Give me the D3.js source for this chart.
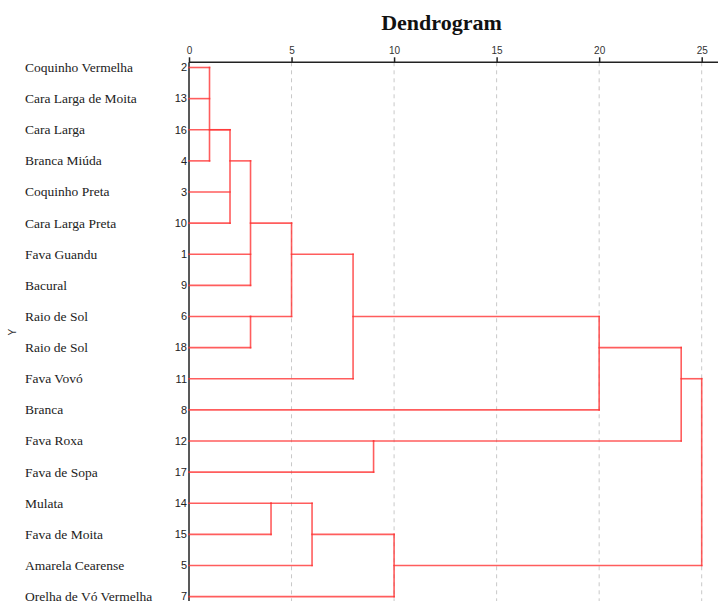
<!DOCTYPE html>
<html>
<head>
<meta charset="utf-8">
<script src="https://cdn.jsdelivr.net/npm/d3@7"></script>
<style>
  html, body { margin: 0; padding: 0; background: #fff; }
  svg { display: block; }
</style>
</head>
<body>
<svg id="chart" width="718" height="601"></svg>
<script>
// ---- data ----
const leafIds   = ["2","13","16","4","3","10","1","9","6","18","11","8","12","17","14","15","5","7"];
const leafNames = ["Coquinho Vermelha","Cara Larga de Moita","Cara Larga","Branca Miúda","Coquinho Preta",
                   "Cara Larga Preta","Fava Guandu","Bacural","Raio de Sol","Raio de Sol","Fava Vovó","Branca",
                   "Fava Roxa","Fava de Sopa","Mulata","Fava de Moita","Amarela Cearense","Orelha de Vó Vermelha"];
// merges: cluster id, children, rescaled distance, leaf row where the cluster's connector is drawn
const mergeIds      = ["A","B","C","D","E","F","G","H","I","J","K","L","R"];
const mergeChildren = [["2","13","4"],["A","16","3","10"],["B","1","9"],["6","18"],["C","D"],["E","11"],
                       ["F","8"],["12","17"],["G","H"],["14","15"],["J","5"],["K","7"],["I","L"]];
const mergeHeights  = [1,2,3,3,5,8,20,9,24,4,6,10,25];
const mergeAnchors  = ["16","4","10","6","1","6","18","12","11","14","15","5",null];
const xTicks = [0,5,10,15,20,25];
const titleText = "Dendrogram";
const yAxisTitle = "Y";

// ---- layout ----
const svg = d3.select("#chart");
const W = 718, H = 601;
const x = d3.scaleLinear().domain([0, 25]).range([189, 701.7]);
const y = d3.scalePoint().domain(leafIds).range([67.5, 596.6]);
const axisY = 62.3;
const red = "#ff3434";

// title
svg.append("text")
  .attr("x", 441.5).attr("y", 29.5)
  .attr("text-anchor", "middle")
  .attr("font-family", "'Liberation Serif', 'DejaVu Serif', serif")
  .attr("font-weight", "bold")
  .attr("font-size", 22)
  .attr("fill", "#111")
  .text(titleText);

// gridlines
svg.append("g").selectAll("line")
  .data(xTicks.filter(t => t > 0))
  .join("line")
  .attr("x1", d => x(d)).attr("x2", d => x(d))
  .attr("y1", axisY).attr("y2", H)
  .attr("stroke", "#c8c8c8").attr("stroke-width", 1)
  .attr("stroke-dasharray", "4,4");

// top axis
const axis = d3.axisTop(x).tickValues(xTicks).tickSize(5).tickPadding(3).tickFormat(d3.format("d"));
const gAxis = svg.append("g").attr("transform", `translate(0,${axisY})`).call(axis);
gAxis.select(".domain").remove();
gAxis.selectAll(".tick line").attr("stroke", "#222").attr("stroke-width", 1.5);
gAxis.selectAll(".tick text")
  .attr("font-family", "'Liberation Sans', Arial, sans-serif")
  .attr("font-size", 10).attr("fill", "#333");
svg.append("line")
  .attr("x1", x(0)).attr("x2", W)
  .attr("y1", axisY).attr("y2", axisY)
  .attr("stroke", "#222").attr("stroke-width", 1.5);
// left vertical axis line
svg.append("line")
  .attr("x1", x(0)).attr("x2", x(0))
  .attr("y1", axisY).attr("y2", H)
  .attr("stroke", "#222").attr("stroke-width", 1.5);

// leaf names
svg.append("g").selectAll("text")
  .data(leafIds)
  .join("text")
  .attr("x", 25).attr("y", d => y(d))
  .attr("dy", "0.33em")
  .attr("font-family", "'Liberation Serif', 'DejaVu Serif', serif")
  .attr("font-size", 13.5).attr("fill", "#222")
  .text((d, i) => leafNames[i]);

// leaf numbers
svg.append("g").selectAll("text")
  .data(leafIds)
  .join("text")
  .attr("x", 187).attr("y", d => y(d))
  .attr("dy", "0.35em")
  .attr("text-anchor", "end")
  .attr("font-family", "'Liberation Sans', Arial, sans-serif")
  .attr("font-size", 11).attr("fill", "#222")
  .text(d => d);

// Y axis title
svg.append("text")
  .attr("transform", `translate(12,${(y(leafIds[0]) + y(leafIds[leafIds.length-1])) / 2}) rotate(-90)`)
  .attr("text-anchor", "middle").attr("dy", "0.35em")
  .attr("font-family", "'Liberation Sans', Arial, sans-serif")
  .attr("font-size", 10).attr("fill", "#333")
  .text(yAxisTitle);

// ---- dendrogram ----
const nodes = {};
leafIds.forEach(id => { nodes[id] = { height: 0, yPos: y(id) }; });
mergeIds.forEach((id, i) => {
  nodes[id] = { height: mergeHeights[i], yPos: mergeAnchors[i] ? y(mergeAnchors[i]) : null };
});
const segs = [];
mergeIds.forEach((id, i) => {
  const h = mergeHeights[i];
  const ch = mergeChildren[i].map(c => nodes[c]);
  ch.forEach(c => segs.push({ x1: c.height, x2: h, y1: c.yPos, y2: c.yPos }));
  const ys = ch.map(c => c.yPos);
  segs.push({ x1: h, x2: h, y1: d3.min(ys), y2: d3.max(ys) });
});
svg.append("g").selectAll("line")
  .data(segs)
  .join("line")
  .attr("x1", d => x(d.x1)).attr("x2", d => x(d.x2))
  .attr("y1", d => d.y1).attr("y2", d => d.y2)
  .attr("stroke", red).attr("stroke-width", 1.6)
  .attr("stroke-opacity", 0.8)
  .attr("stroke-linecap", "square");
</script>
</body>
</html>
